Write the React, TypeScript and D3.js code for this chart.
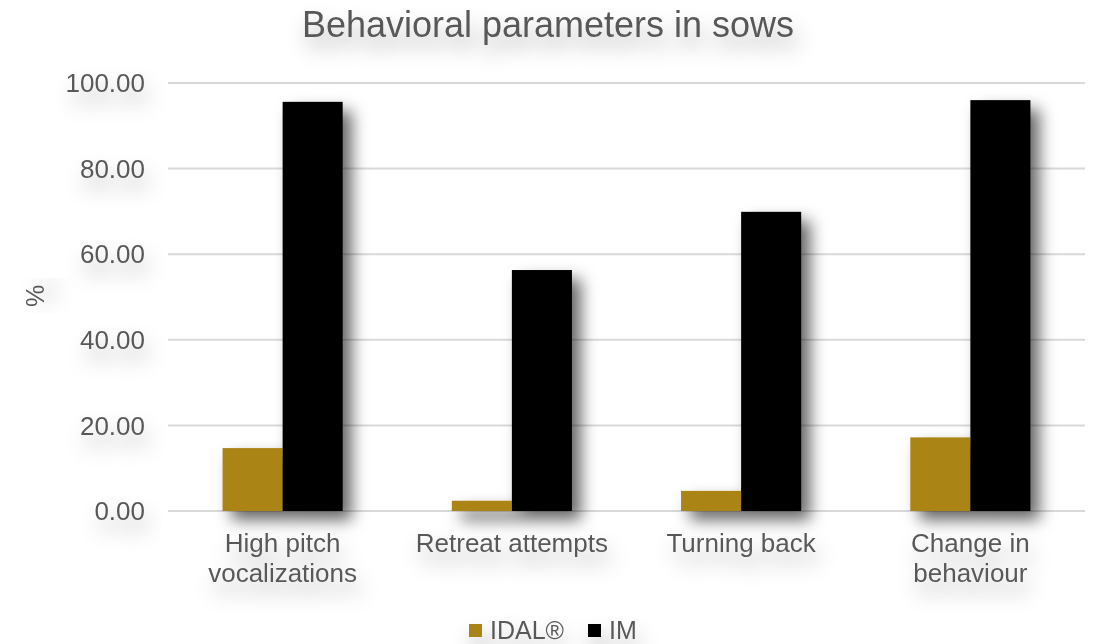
import React from "react";
import * as d3 from "d3";

const categories: string[][] = [
  ["High pitch", "vocalizations"],
  ["Retreat attempts"],
  ["Turning back"],
  ["Change in", "behaviour"],
];
const seriesNames = ["IDAL®", "IM"];
const idalValues = [14.7, 2.4, 4.7, 17.2];
const imValues = [95.6, 56.3, 69.9, 96.0];
const yTicks = [0, 20, 40, 60, 80, 100];
const colors = ["#AB8416", "#000000"];

const W = 1096;
const H = 644;
const FONT = "'Liberation Sans', Arial, sans-serif";
const TXT = "#595959";

export default function App() {
  const catKeys = categories.map((c) => c.join(" "));
  const x = d3
    .scaleBand<string>()
    .domain(catKeys)
    .range([168, 1085])
    .paddingInner(0.476)
    .paddingOuter(0.238);
  const xs = d3
    .scaleBand<string>()
    .domain(seriesNames)
    .range([0, x.bandwidth()])
    .padding(0);
  const y = d3.scaleLinear().domain([0, 100]).range([511, 83]);
  const series = [idalValues, imValues];

  return (
    <svg
      width={W}
      height={H}
      style={{ position: "absolute", left: 0, top: 0, background: "#fff" }}
    >
      <defs>
        <filter id="barShadow" x="-50%" y="-20%" width="200%" height="150%">
          <feDropShadow dx="9" dy="9" stdDeviation="8" floodColor="#000" floodOpacity="0.6" />
        </filter>
        <filter id="textShadow" x="-30%" y="-60%" width="160%" height="280%">
          <feDropShadow dx="4" dy="12" stdDeviation="10" floodColor="#000" floodOpacity="0.3" />
        </filter>
      </defs>
      <rect width={W} height={H} fill="#fff" />
      <text
        x={548}
        y={37}
        textAnchor="middle"
        fontFamily={FONT}
        fontSize={36}
        fill={TXT}
        filter="url(#textShadow)"
      >
        Behavioral parameters in sows
      </text>
      {yTicks.map((t) => (
        <g key={t}>
          <line x1={168} x2={1085} y1={y(t)} y2={y(t)} stroke="#d9d9d9" strokeWidth={2} />
          <text
            x={145}
            y={y(t)}
            dy="0.35em"
            textAnchor="end"
            fontFamily={FONT}
            fontSize={26}
            fill={TXT}
            filter="url(#textShadow)"
          >
            {t.toFixed(2)}
          </text>
        </g>
      ))}
      <text
        transform="translate(44,296) rotate(-90)"
        textAnchor="middle"
        fontFamily={FONT}
        fontSize={25}
        fill={TXT}
        filter="url(#textShadow)"
      >
        %
      </text>
      {catKeys.map((k, ci) => (
        <g key={k} filter="url(#barShadow)">
          {series.map((vals, si) => (
            <rect
              key={si}
              x={(x(k) as number) + (xs(seriesNames[si]) as number)}
              y={y(vals[ci])}
              width={xs.bandwidth()}
              height={y(0) - y(vals[ci])}
              fill={colors[si]}
            />
          ))}
        </g>
      ))}
      {categories.map((lines, ci) => (
        <text
          key={ci}
          textAnchor="middle"
          fontFamily={FONT}
          fontSize={26}
          fill={TXT}
          filter="url(#textShadow)"
        >
          {lines.map((ln, li) => (
            <tspan key={li} x={(x(catKeys[ci]) as number) + x.bandwidth() / 2} y={552 + li * 30}>
              {ln}
            </tspan>
          ))}
        </text>
      ))}
      <g filter="url(#textShadow)">
        {seriesNames.map((s, i) => {
          const lx = [469, 588][i];
          return (
            <g key={s}>
              <rect x={lx} y={624} width={13} height={13} fill={colors[i]} />
              <text x={lx + 21} y={639} fontFamily={FONT} fontSize={25} fill={TXT}>
                {s}
              </text>
            </g>
          );
        })}
      </g>
    </svg>
  );
}
